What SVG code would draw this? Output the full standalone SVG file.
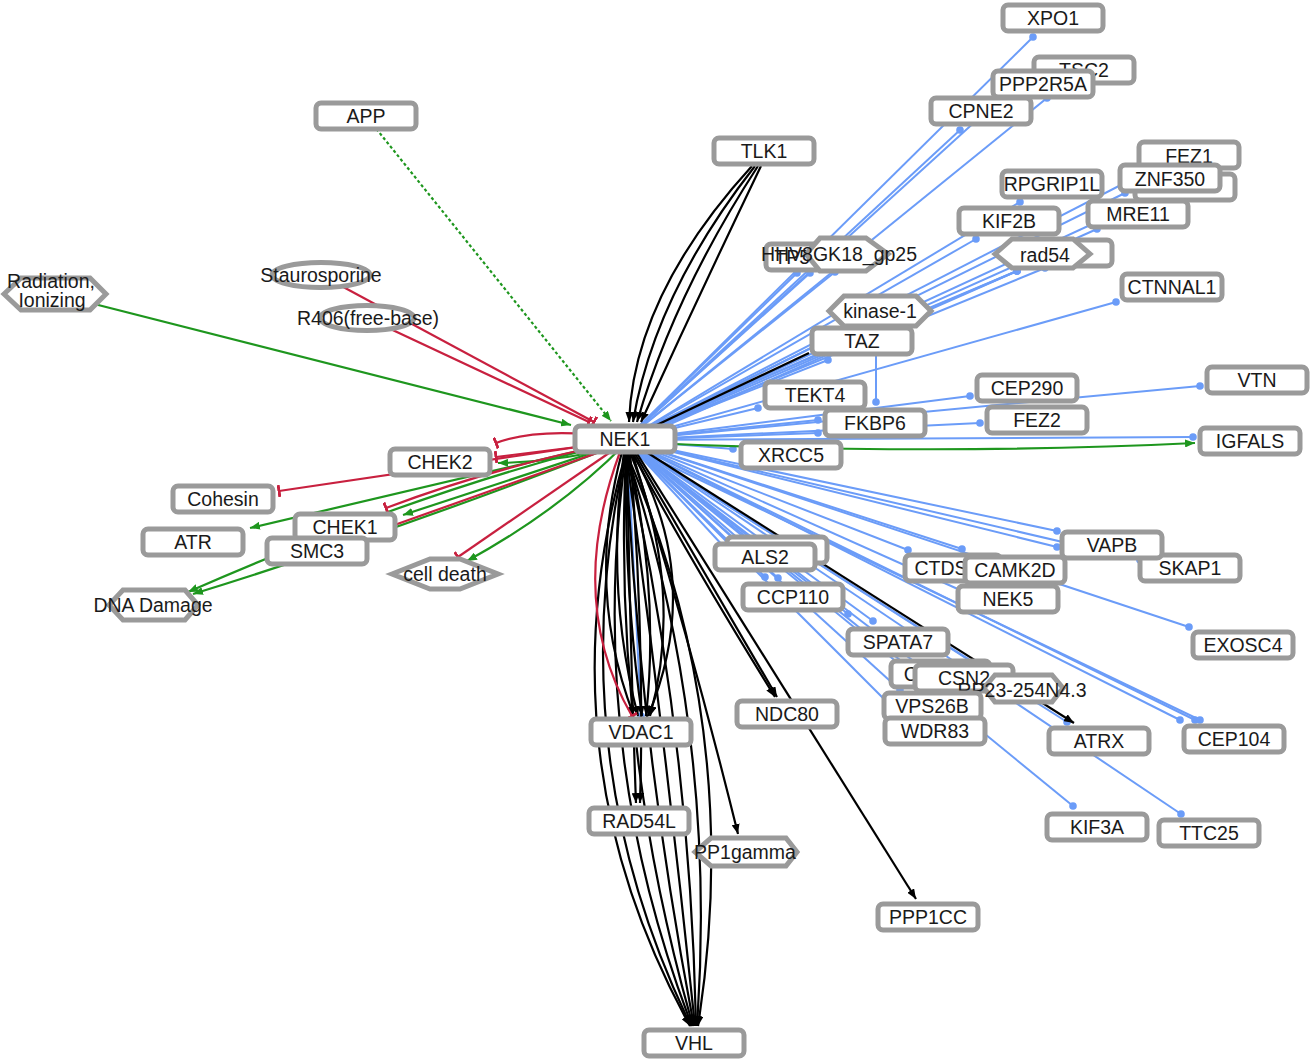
<svg xmlns="http://www.w3.org/2000/svg" width="1313" height="1060" viewBox="0 0 1313 1060">
<style>
.box{fill:#fff;stroke:#9a9a9a;stroke-width:5}
.lbl{font-family:"Liberation Sans",Arial,sans-serif;font-size:19.5px;fill:#1a1a1a;text-anchor:middle}
.bl{stroke:#6b9cf8;stroke-width:2;fill:none;marker-end:url(#dot)}
.bk{stroke:#000;stroke-width:2.2;fill:none;marker-end:url(#arrK)}
.gr{stroke:#1e961e;stroke-width:2.2;fill:none;marker-end:url(#arrG)}
.rd{stroke:#c8203f;stroke-width:2.2;fill:none;marker-end:url(#tee)}
</style>
<defs>
<marker id="arrK" viewBox="0 0 10 8" refX="10" refY="4" markerWidth="10" markerHeight="8" markerUnits="userSpaceOnUse" orient="auto"><path d="M0,0 L10,4 L0,8 z" fill="#000"/></marker>
<marker id="arrG" viewBox="0 0 10 8" refX="10" refY="4" markerWidth="10" markerHeight="8" markerUnits="userSpaceOnUse" orient="auto"><path d="M0,0 L10,4 L0,8 z" fill="#1e961e"/></marker>
<marker id="tee" viewBox="0 0 3 12" refX="1.5" refY="6" markerWidth="3" markerHeight="12" markerUnits="userSpaceOnUse" orient="auto"><rect x="0" y="0" width="3" height="12" fill="#c8203f"/></marker>
<marker id="dot" viewBox="0 0 8 8" refX="4" refY="4" markerWidth="8" markerHeight="8" markerUnits="userSpaceOnUse"><circle cx="4" cy="4" r="3.8" fill="#6b9cf8"/></marker>
</defs>
<rect width="1313" height="1060" fill="#fff"/>
<g id="connectors">
<g id="blue-edges">
<line class="bl" x1="625" y1="440" x2="1047" y2="98"/>
<line class="bl" x1="625" y1="440" x2="1000" y2="99"/>
<line class="bl" x1="625" y1="440" x2="1033" y2="37"/>
<line class="bl" x1="625" y1="440" x2="960" y2="130"/>
<line class="bl" x1="625" y1="440" x2="1020" y2="202"/>
<line class="bl" x1="625" y1="440" x2="976" y2="239"/>
<line class="bl" x1="625" y1="440" x2="1097" y2="229"/>
<line class="bl" x1="625" y1="440" x2="1125" y2="193"/>
<line class="bl" x1="625" y1="440" x2="1150" y2="170"/>
<line class="bl" x1="625" y1="440" x2="1140" y2="202"/>
<line class="bl" x1="625" y1="436" x2="1017" y2="271"/>
<line class="bl" x1="625" y1="440" x2="1017" y2="271"/>
<line class="bl" x1="625" y1="444" x2="1017" y2="271"/>
<line class="bl" x1="625" y1="440" x2="1045" y2="268"/>
<line class="bl" x1="625" y1="440" x2="1116" y2="302"/>
<line class="bl" x1="625" y1="440" x2="797" y2="273"/>
<line class="bl" x1="625" y1="440" x2="810" y2="273"/>
<line class="bl" x1="625" y1="440" x2="835" y2="272"/>
<line class="bl" x1="625" y1="440" x2="855" y2="326"/>
<line class="bl" x1="625" y1="440" x2="828" y2="360"/>
<line class="bl" x1="876" y1="350" x2="876" y2="402"/>
<line class="bl" x1="625" y1="440" x2="758" y2="408"/>
<line class="bl" x1="625" y1="440" x2="818" y2="420"/>
<line class="bl" x1="625" y1="440" x2="818" y2="433"/>
<line class="bl" x1="625" y1="440" x2="733" y2="449"/>
<line class="bl" x1="625" y1="440" x2="970" y2="396"/>
<line class="bl" x1="625" y1="440" x2="980" y2="423"/>
<line class="bl" x1="625" y1="440" x2="1200" y2="386"/>
<line class="bl" x1="625" y1="440" x2="1193" y2="437"/>
<line class="bl" x1="625" y1="440" x2="1057" y2="531"/>
<line class="bl" x1="625" y1="440" x2="1057" y2="547"/>
<line class="bl" x1="625" y1="440" x2="1140" y2="560"/>
<line class="bl" x1="625" y1="440" x2="962" y2="549"/>
<line class="bl" x1="625" y1="440" x2="908" y2="550"/>
<line class="bl" x1="625" y1="440" x2="960" y2="590"/>
<line class="bl" x1="625" y1="440" x2="1189" y2="627"/>
<line class="bl" x1="625" y1="440" x2="1180" y2="720"/>
<line class="bl" x1="625" y1="440" x2="1195" y2="720"/>
<line class="bl" x1="625" y1="444" x2="1200" y2="720"/>
<line class="bl" x1="625" y1="440" x2="1067" y2="722"/>
<line class="bl" x1="625" y1="440" x2="1073" y2="806"/>
<line class="bl" x1="625" y1="440" x2="1181" y2="814"/>
<line class="bl" x1="625" y1="440" x2="848" y2="614"/>
<line class="bl" x1="625" y1="440" x2="873" y2="621"/>
<line class="bl" x1="625" y1="440" x2="765" y2="577"/>
<line class="bl" x1="625" y1="440" x2="778" y2="578"/>
<line class="bl" x1="625" y1="440" x2="725" y2="548"/>
<line class="bl" x1="625" y1="440" x2="740" y2="540"/>
<line class="bl" x1="625" y1="440" x2="900" y2="690"/>
<line class="bl" x1="625" y1="440" x2="905" y2="720"/>
<line class="bl" x1="625" y1="440" x2="920" y2="666"/>
<line class="bl" x1="625" y1="440" x2="905" y2="664"/>
<line class="bl" x1="625" y1="440" x2="1000" y2="680"/>
<line class="bl" x1="628" y1="452" x2="641" y2="716"/>
</g>
<g id="black-edges">
<path class="bk" d="M752,166 Q634,295 629,422"/>
<path class="bk" d="M755,166 Q654,295 633,422"/>
<path class="bk" d="M758,166 Q674,295 637,422"/>
<path class="bk" d="M761,166 Q699,295 641,422"/>
<path class="bk" d="M622,452 Q585,590 634,716"/>
<path class="bk" d="M624,452 Q605,590 638,716"/>
<path class="bk" d="M626,452 Q624,590 642,716"/>
<path class="bk" d="M628,452 Q660,590 646,716"/>
<path class="bk" d="M630,452 Q685,590 650,716"/>
<path class="bk" d="M632,452 Q705,580 648,716"/>
<path class="bk" d="M627,452 Q630,640 636,803"/>
<path class="bk" d="M630,452 Q645,640 640,803"/>
<path class="bk" d="M626,452 Q540,754 690,1026"/>
<path class="bk" d="M626,452 Q558,752 691,1026"/>
<path class="bk" d="M626,452 Q585,748 692,1026"/>
<path class="bk" d="M626,452 Q612,744 693,1026"/>
<path class="bk" d="M626,452 Q639,740 694,1026"/>
<path class="bk" d="M626,452 Q665,737 695,1026"/>
<path class="bk" d="M626,452 Q690,734 696,1026"/>
<path class="bk" d="M626,452 Q718,730 697,1026"/>
<path class="bk" d="M626,452 Q745,726 698,1026"/>
<path class="bk" d="M632,452 Q690,640 738,834"/>
<path class="bk" d="M634,452 L777,697"/>
<path class="bk" d="M632,452 Q690,560 775,697"/>
<path class="bk" d="M636,452 L916,899"/>
<path class="bk" d="M640,448 L1074,723"/>
<path d="M625,440 L809,353" stroke="#000" stroke-width="2.2" fill="none"/>
</g>
<g id="green-edges">
<path class="gr" d="M55,294 L571,425"/>
<path class="gr" d="M366,116 L611,421" stroke-dasharray="3,2.5"/>
<path class="gr" d="M625,445 Q560,462 498,463"/>
<path class="gr" d="M625,440 L250,528"/>
<path class="gr" d="M625,442 L403,515"/>
<path class="gr" d="M625,440 Q420,490 188,592"/>
<path class="gr" d="M625,442 Q400,530 193,594"/>
<path class="gr" d="M625,444 Q560,510 467,561"/>
<path class="gr" d="M625,442 Q930,456 1195,443"/>
</g>
<g id="red-edges">
<path class="rd" d="M321,275 L594,422"/>
<path class="rd" d="M367,318 L589,422"/>
<path class="rd" d="M625,438 Q540,426 496,443"/>
<path class="rd" d="M625,441 L496,457"/>
<path class="rd" d="M625,440 L279,491"/>
<path class="rd" d="M625,441 Q500,465 386,508"/>
<path class="rd" d="M625,443 L372,533"/>
<path class="rd" d="M625,442 L458,557"/>
<path class="rd" d="M620,452 Q565,600 632,716"/>
</g>
</g>
<g id="nodes">
<g id="n-XPO1"><rect class="box" x="1003" y="5" width="100" height="26" rx="5"/><text class="lbl" x="1053" y="25">XPO1</text></g>
<g id="n-TSC2"><rect class="box" x="1034" y="57" width="100" height="26" rx="5"/><text class="lbl" x="1084" y="77">TSC2</text></g>
<g id="n-PPP2R5A"><rect class="box" x="993" y="71" width="100" height="26" rx="5"/><text class="lbl" x="1043" y="91">PPP2R5A</text></g>
<g id="n-CPNE2"><rect class="box" x="931" y="98" width="100" height="26" rx="5"/><text class="lbl" x="981" y="118">CPNE2</text></g>
<g id="n-FEZ1"><rect class="box" x="1139" y="142" width="100" height="26" rx="5"/><text class="lbl" x="1189" y="163">FEZ1</text></g>
<g id="n-hidden1"><rect class="box" x="1135" y="174" width="100" height="26" rx="5"/></g>
<g id="n-ZNF350"><rect class="box" x="1120" y="165" width="100" height="26" rx="5"/><text class="lbl" x="1170" y="186">ZNF350</text></g>
<g id="n-RPGRIP1L"><rect class="box" x="1002" y="171" width="100" height="26" rx="5"/><text class="lbl" x="1052" y="191">RPGRIP1L</text></g>
<g id="n-MRE11"><rect class="box" x="1088" y="201" width="100" height="26" rx="5"/><text class="lbl" x="1138" y="221">MRE11</text></g>
<g id="n-KIF2B"><rect class="box" x="959" y="208" width="100" height="26" rx="5"/><text class="lbl" x="1009" y="228">KIF2B</text></g>
<g id="n-hidden2"><rect class="box" x="1012" y="240" width="100" height="26" rx="5"/></g>
<g id="n-rad54"><polygon class="box" points="995,254 1012,239 1073,239 1090,254 1073,268 1012,268"/><text class="lbl" x="1045" y="262">rad54</text></g>
<g id="n-CTNNAL1"><rect class="box" x="1122" y="274" width="100" height="26" rx="5"/><text class="lbl" x="1172" y="294">CTNNAL1</text></g>
<g id="n-TP53BP1"><rect class="box" x="766" y="244" width="101" height="26" rx="5"/><text class="lbl" x="816" y="264">TP53BP1</text></g>
<g id="n-HHV8GK18_gp25"><polygon class="box" points="806,254 820,238 866,238 888,254 866,271 820,271"/><text class="lbl" x="839" y="261">HHV8GK18_gp25</text></g>
<g id="n-kinase-1"><polygon class="box" points="829,311 844,296 916,296 931,311 916,326 844,326"/><text class="lbl" x="880" y="318">kinase-1</text></g>
<g id="n-TAZ"><rect class="box" x="812" y="328" width="100" height="26" rx="5"/><text class="lbl" x="862" y="348">TAZ</text></g>
<g id="n-TEKT4"><rect class="box" x="765" y="382" width="100" height="26" rx="5"/><text class="lbl" x="815" y="402">TEKT4</text></g>
<g id="n-FKBP6"><rect class="box" x="825" y="410" width="100" height="26" rx="5"/><text class="lbl" x="875" y="430">FKBP6</text></g>
<g id="n-XRCC5"><rect class="box" x="741" y="442" width="100" height="26" rx="5"/><text class="lbl" x="791" y="462">XRCC5</text></g>
<g id="n-CEP290"><rect class="box" x="977" y="375" width="100" height="26" rx="5"/><text class="lbl" x="1027" y="395">CEP290</text></g>
<g id="n-FEZ2"><rect class="box" x="987" y="407" width="100" height="26" rx="5"/><text class="lbl" x="1037" y="427">FEZ2</text></g>
<g id="n-VTN"><rect class="box" x="1207" y="367" width="100" height="26" rx="5"/><text class="lbl" x="1257" y="387">VTN</text></g>
<g id="n-IGFALS"><rect class="box" x="1200" y="428" width="100" height="26" rx="5"/><text class="lbl" x="1250" y="448">IGFALS</text></g>
<g id="n-SKAP1"><rect class="box" x="1140" y="555" width="100" height="26" rx="5"/><text class="lbl" x="1190" y="575">SKAP1</text></g>
<g id="n-VAPB"><rect class="box" x="1062" y="532" width="100" height="26" rx="5"/><text class="lbl" x="1112" y="552">VAPB</text></g>
<g id="n-CTDSP1"><rect class="box" x="905" y="555" width="96" height="26" rx="5"/><text class="lbl" x="953" y="575">CTDSP1</text></g>
<g id="n-CAMK2D"><rect class="box" x="965" y="557" width="100" height="26" rx="5"/><text class="lbl" x="1015" y="577">CAMK2D</text></g>
<g id="n-NEK5"><rect class="box" x="958" y="586" width="100" height="26" rx="5"/><text class="lbl" x="1008" y="606">NEK5</text></g>
<g id="n-EXOSC4"><rect class="box" x="1193" y="632" width="100" height="26" rx="5"/><text class="lbl" x="1243" y="652">EXOSC4</text></g>
<g id="n-hidden3"><rect class="box" x="727" y="537" width="100" height="26" rx="5"/></g>
<g id="n-ALS2"><rect class="box" x="715" y="544" width="100" height="26" rx="5"/><text class="lbl" x="765" y="564">ALS2</text></g>
<g id="n-CCP110"><rect class="box" x="743" y="584" width="100" height="26" rx="5"/><text class="lbl" x="793" y="604">CCP110</text></g>
<g id="n-SPATA7"><rect class="box" x="848" y="629" width="100" height="26" rx="5"/><text class="lbl" x="898" y="649">SPATA7</text></g>
<g id="n-CEP164"><rect class="box" x="891" y="661" width="99" height="26" rx="5"/><text class="lbl" x="940" y="681">CEP164</text></g>
<g id="n-CSN2"><rect class="box" x="915" y="665" width="98" height="26" rx="5"/><text class="lbl" x="964" y="685">CSN2</text></g>
<g id="n-RP23-254N4.3"><polygon class="box" points="984,688 995,675 1052,675 1063,688 1052,702 995,702"/><text class="lbl" x="1022" y="697">RP23-254N4.3</text></g>
<g id="n-VPS26B"><rect class="box" x="884" y="693" width="97" height="26" rx="5"/><text class="lbl" x="932" y="713">VPS26B</text></g>
<g id="n-WDR83"><rect class="box" x="885" y="718" width="100" height="26" rx="5"/><text class="lbl" x="935" y="738">WDR83</text></g>
<g id="n-ATRX"><rect class="box" x="1049" y="728" width="100" height="26" rx="5"/><text class="lbl" x="1099" y="748">ATRX</text></g>
<g id="n-CEP104"><rect class="box" x="1184" y="726" width="100" height="26" rx="5"/><text class="lbl" x="1234" y="746">CEP104</text></g>
<g id="n-KIF3A"><rect class="box" x="1047" y="814" width="100" height="26" rx="5"/><text class="lbl" x="1097" y="834">KIF3A</text></g>
<g id="n-TTC25"><rect class="box" x="1159" y="820" width="100" height="26" rx="5"/><text class="lbl" x="1209" y="840">TTC25</text></g>
<g id="n-NDC80"><rect class="box" x="737" y="701" width="100" height="26" rx="5"/><text class="lbl" x="787" y="721">NDC80</text></g>
<g id="n-PPP1CC"><rect class="box" x="878" y="904" width="100" height="26" rx="5"/><text class="lbl" x="928" y="924">PPP1CC</text></g>
<g id="n-VHL"><rect class="box" x="644" y="1030" width="100" height="26" rx="5"/><text class="lbl" x="694" y="1050">VHL</text></g>
<g id="n-PP1gamma"><polygon class="box" points="695,852 711,838 786,838 797,852 786,866 711,866"/><text class="lbl" x="745" y="859">PP1gamma</text></g>
<g id="n-RAD54L"><rect class="box" x="589" y="808" width="100" height="26" rx="5"/><text class="lbl" x="639" y="828">RAD54L</text></g>
<g id="n-VDAC1"><rect class="box" x="591" y="719" width="100" height="26" rx="5"/><text class="lbl" x="641" y="739">VDAC1</text></g>
<g id="n-NEK1"><rect class="box" x="575" y="426" width="100" height="26" rx="5"/><text class="lbl" x="625" y="446">NEK1</text></g>
<g id="n-TLK1"><rect class="box" x="714" y="138" width="100" height="26" rx="5"/><text class="lbl" x="764" y="158">TLK1</text></g>
<g id="n-APP"><rect class="box" x="316" y="103" width="100" height="26" rx="5"/><text class="lbl" x="366" y="123">APP</text></g>
<g id="n-Staurosporine"><ellipse class="box" cx="321" cy="275" rx="49" ry="12.5"/><text class="lbl" x="321" y="282">Staurosporine</text></g>
<g id="n-R406"><ellipse class="box" cx="367" cy="318" rx="47" ry="12.5"/><text class="lbl" x="368" y="325">R406(free-base)</text></g>
<g id="n-Radiation"><polygon class="box" points="4,294 21,278 90,278 106,294 90,310 21,310"/><text class="lbl" x="51" y="288">Radiation,</text><text class="lbl" x="52" y="307">Ionizing</text></g>
<g id="n-CHEK2"><rect class="box" x="390" y="449" width="100" height="26" rx="5"/><text class="lbl" x="440" y="469">CHEK2</text></g>
<g id="n-Cohesin"><rect class="box" x="173" y="486" width="100" height="26" rx="5"/><text class="lbl" x="223" y="506">Cohesin</text></g>
<g id="n-ATR"><rect class="box" x="143" y="529" width="100" height="26" rx="5"/><text class="lbl" x="193" y="549">ATR</text></g>
<g id="n-CHEK1"><rect class="box" x="295" y="514" width="100" height="26" rx="5"/><text class="lbl" x="345" y="534">CHEK1</text></g>
<g id="n-SMC3"><rect class="box" x="267" y="538" width="100" height="26" rx="5"/><text class="lbl" x="317" y="558">SMC3</text></g>
<g id="n-celldeath"><polygon class="box" points="392,574 430,559 460,559 498,574 460,589 430,589"/><text class="lbl" x="445" y="581">cell death</text></g>
<g id="n-DNADamage"><polygon class="box" points="109,605 123,590 185,590 198,605 185,620 123,620"/><text class="lbl" x="153" y="612">DNA Damage</text></g>
</g>
</svg>
